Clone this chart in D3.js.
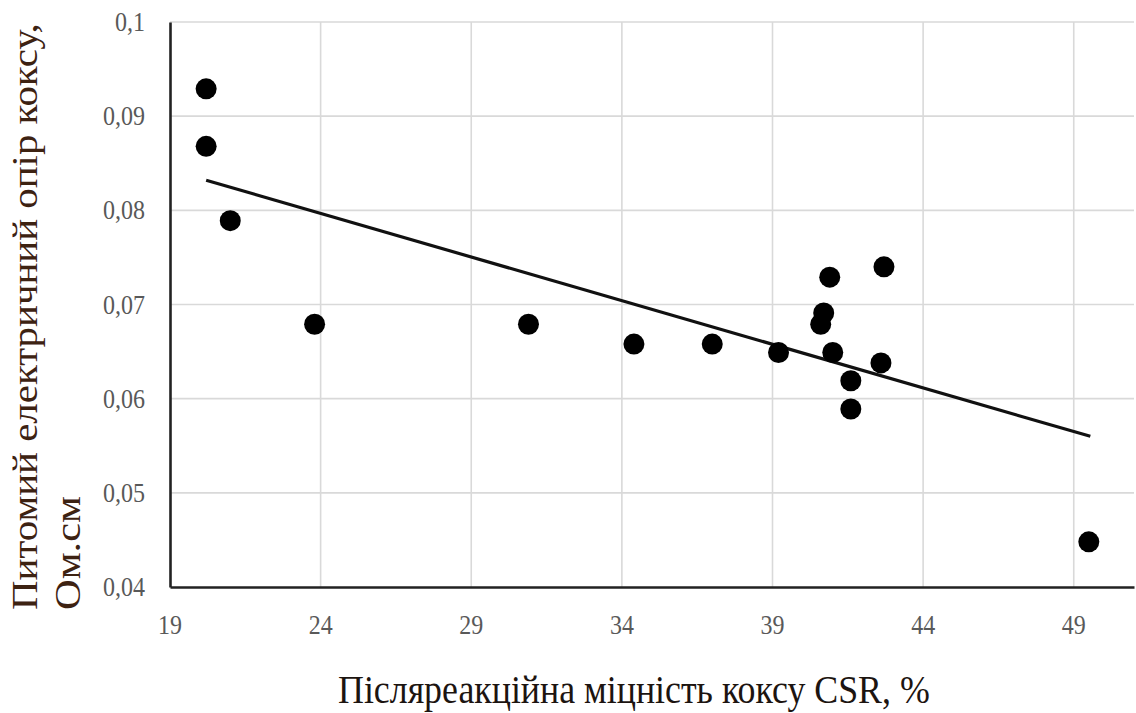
<!DOCTYPE html>
<html>
<head>
<meta charset="utf-8">
<script src="https://cdn.jsdelivr.net/npm/d3@7"></script>
<style>
  html, body { margin: 0; padding: 0; background: #fff; }
  svg { display: block; }
</style>
</head>
<body>
<svg id="chart"></svg>
<script>
// CSR vs specific electrical resistance of coke — scatter + linear trend

const csr        = [20.2, 20.2, 21.0, 23.8, 30.9, 34.4, 37.0, 39.2, 40.9, 42.7, 40.7, 40.6, 41.0, 42.6, 41.6, 41.6, 49.5];
const resistance = [0.0929, 0.0868, 0.0789, 0.0679, 0.0679, 0.0658, 0.0658, 0.0649, 0.0729, 0.0740, 0.0691, 0.0679, 0.0649, 0.0638, 0.0619, 0.0589, 0.0448];

// trend line end points
const trendX = [20.2, 49.55];
const trendY = [0.0832, 0.0560];

const xTicks = [19, 24, 29, 34, 39, 44, 49];
const yTicks = [0.04, 0.05, 0.06, 0.07, 0.08, 0.09, 0.1];
const yTickLabels = ['0,04', '0,05', '0,06', '0,07', '0,08', '0,09', '0,1'];

const W = 1136, H = 713;
const FONT = '"Liberation Serif", "Times New Roman", serif';
const svg = d3.select('#chart').attr('width', W).attr('height', H);

const x = d3.scaleLinear().domain([19, 51]).range([170, 1134]);
const y = d3.scaleLinear().domain([0.04, 0.1]).range([587, 22]);

// squeeze a text horizontally so it is `w` px wide (the source picture is stretched)
function squeeze(sel, px, py, w) {
    sel.attr('x', 0).attr('y', 0);
    const len = sel.node().getComputedTextLength() || w;
    sel.attr('transform', `translate(${px},${py}) scale(${w / len},1)`);
}

// ── gridlines ──────────────────────────────────────────────────────────────
const grid = svg.append('g');
grid.selectAll('.hg').data(yTicks.slice(1)).join('line')
    .attr('x1', x(19)).attr('x2', x(51))
    .attr('y1', d => y(d)).attr('y2', d => y(d))
    .attr('stroke', '#d9d9d9').attr('stroke-width', 1.6);
grid.selectAll('.vg').data(xTicks.slice(1)).join('line')
    .attr('x1', d => x(d)).attr('x2', d => x(d))
    .attr('y1', y(0.1)).attr('y2', y(0.04))
    .attr('stroke', '#d9d9d9').attr('stroke-width', 1.6);

// ── axes (lines only, labels placed by hand) ────────────────────────────────
const xAxis = svg.append('g')
    .attr('transform', `translate(0,${y(0.04)})`)
    .call(d3.axisBottom(x).tickValues(xTicks).tickSize(0).tickFormat(''));
xAxis.select('.domain').attr('stroke', '#222').attr('stroke-width', 2.6);

const yAxis = svg.append('g')
    .attr('transform', `translate(${x(19)},0)`)
    .call(d3.axisLeft(y).tickValues(yTicks).tickSize(0).tickFormat(''));
yAxis.select('.domain').attr('stroke', '#222').attr('stroke-width', 2.6);

const labelWidth = s => s.replace(/[^0-9]/g, '').length * 12 + (s.includes(',') ? 6 : 0);

svg.append('g').selectAll('text').data(xTicks).join('text')
    .attr('text-anchor', 'middle')
    .style('font-family', FONT).style('font-size', '28px')
    .attr('fill', '#595959')
    .text(d => d)
    .each(function (d) { squeeze(d3.select(this), x(d), 634, labelWidth(String(d))); });

svg.append('g').selectAll('text').data(yTicks).join('text')
    .attr('text-anchor', 'end')
    .style('font-family', FONT).style('font-size', '27px')
    .attr('fill', '#595959')
    .text((d, i) => yTickLabels[i])
    .each(function (d, i) { squeeze(d3.select(this), 145, y(d) + 9, labelWidth(yTickLabels[i])); });

// ── trend line ─────────────────────────────────────────────────────────────
svg.append('path')
    .datum(trendX.map((v, i) => [v, trendY[i]]))
    .attr('d', d3.line().x(d => x(d[0])).y(d => y(d[1])))
    .attr('fill', 'none').attr('stroke', '#111').attr('stroke-width', 3.2);

// ── points ─────────────────────────────────────────────────────────────────
svg.append('g').selectAll('circle').data(csr).join('circle')
    .attr('cx', d => x(d))
    .attr('cy', (d, i) => y(resistance[i]))
    .attr('r', 10.5)
    .attr('fill', '#000');

// ── axis titles ────────────────────────────────────────────────────────────
const xTitle = svg.append('text')
    .style('font-family', FONT).style('font-size', '41px')
    .attr('fill', '#1c1410')
    .text('Післяреакційна міцність коксу CSR, %');
squeeze(xTitle, 338, 703, 592);

const yTitle = svg.append('g').attr('transform', 'translate(0,610) rotate(-90)');
const yt1 = yTitle.append('text')
    .style('font-family', FONT).style('font-size', '35px')
    .attr('fill', '#3d2212')
    .text('Питомий електричний опір коксу,');
squeeze(yt1, 0, 37, 587);
const yt2 = yTitle.append('text')
    .style('font-family', FONT).style('font-size', '35px')
    .attr('fill', '#3d2212')
    .text('Ом.см');
squeeze(yt2, 0, 80, 114);
</script>
</body>
</html>
